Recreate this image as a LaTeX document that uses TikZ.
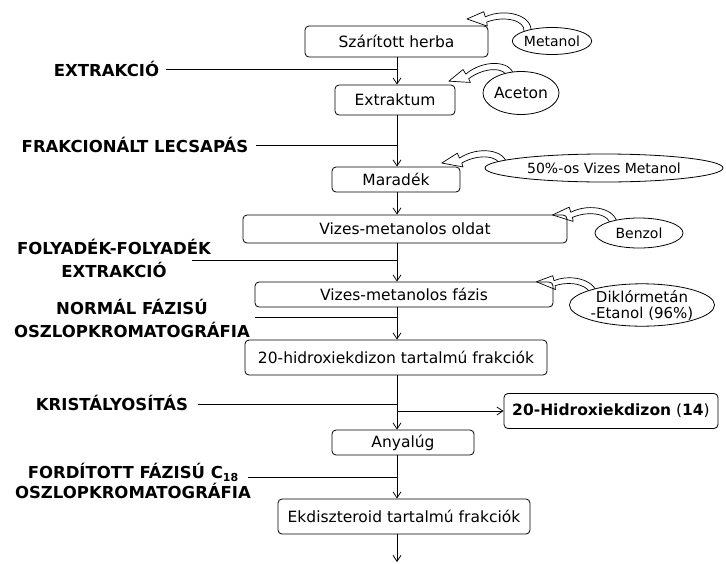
\documentclass[tikz,border=0pt]{standalone}
\usepackage{fontspec}
\setmainfont{DejaVu Sans}
\usetikzlibrary{arrows.meta,shapes.geometric}
\tikzset{
  box/.style={draw,rounded corners=4pt,inner sep=0pt,line width=0.8pt,font=\fontsize{15.5}{18}\selectfont},
  ell/.style={draw,ellipse,fill=white,inner sep=0pt,line width=0.8pt,font=\fontsize{14}{17}\selectfont},
  lab/.style={font=\bfseries\fontsize{16.5}{23}\selectfont,align=center,inner sep=0pt},
  arr/.style={line width=0.8pt,-{Straight Barb[length=6pt,width=8pt]}},
  conn/.style={line width=0.8pt},
  curvarr/.pic={
    \draw[fill=white,line width=0.7pt,line join=round]
      (0,0) .. controls (0,-10) and (-20,-14) .. (-38,-5) -- (-37,-1) -- (-58,-6)
      -- (-42,-15) -- (-40,-10) .. controls (-22,-21) and (7,-17) .. (7,0);
  }
}
\begin{document}
\begin{tikzpicture}[x=1pt,y=-1pt]
\useasboundingbox (0,0) rectangle (726,563);
\coordinate (sp) at (397,0);

% curved hollow arrows (drawn first)
\pic[rotate=-6] at (524,31) {curvarr};
\pic[rotate=10] at (507,77) {curvarr};
\pic[rotate=3] at (500,166) {curvarr};
\pic[rotate=-4] at (610,225) {curvarr};
\pic[rotate=-9,scale=0.95] at (590,296) {curvarr};

% boxes
\node[box,minimum width=183pt,minimum height=31pt] (b1) at (396.5,41.5) {Szárított herba};
\node[box,minimum width=120pt,minimum height=30pt] (b2) at (395,100) {Extraktum};
\node[box,minimum width=128pt,minimum height=25pt] (b3) at (396,179.5) {Maradék};
\node[box,minimum width=324pt,minimum height=28pt] (b4) at (405,229) {Vizes-metanolos oldat};
\node[box,minimum width=298pt,minimum height=25pt] (b5) at (404,294.5) {Vizes-metanolos fázis};
\node[box,minimum width=302pt,minimum height=35pt] (b6) at (396,357.5) {20-hidroxiekdizon tartalmú frakciók};
\node[box,minimum width=214pt,minimum height=35pt] (b7) at (611,411) {\textbf{20-Hidroxiekdizon} (\textbf{14})};
\node[box,minimum width=142pt,minimum height=25pt] (b8) at (403,442.5) {Anyalúg};
\node[box,minimum width=252pt,minimum height=35pt] (b9) at (404,516.5) {Ekdiszteroid tartalmú frakciók};

% ellipses
\node[ell,minimum width=70pt,minimum height=27pt] (e1) at (552,41) {Metanol};
\node[ell,minimum width=73pt,minimum height=43pt,font=\fontsize{15.5}{18}\selectfont] (e2) at (521,93) {Aceton};
\node[ell,minimum width=238pt,minimum height=28pt] (e3) at (604,168) {50\%-os Vizes Metanol};
\node[ell,minimum width=88pt,minimum height=30pt] (e4) at (639,233) {Benzol};
\node[ell,minimum width=135pt,minimum height=40pt,align=center,font=\fontsize{15}{16}\selectfont] (e5) at (642,305) {Diklórmetán\\-Etanol (96\%)};

% left labels
\node[lab] (l1) at (106.5,69) {EXTRAKCIÓ};
\node[lab] (l2) at (135,145) {FRAKCIONÁLT LECSAPÁS};
\node[lab] (l3) at (114,258.5) {FOLYADÉK-FOLYADÉK\\EXTRAKCIÓ};
\node[lab] (l4) at (132,318.5) {NORMÁL FÁZISÚ\\OSZLOPKROMATOGRÁFIA};
\node[lab] (l5) at (112,403) {KRISTÁLYOSÍTÁS};
\node[lab,font=\bfseries\fontsize{16.5}{17}\selectfont] (l6) at (133,481) {FORDÍTOTT FÁZISÚ C\raisebox{-3pt}{\fontsize{11}{11}\selectfont 18}\\OSZLOPKROMATOGRÁFIA};

% line starts
\coordinate (s1) at (166,69);
\coordinate (s2) at (256,145);
\coordinate (s3) at (192,260);
\coordinate (s4) at (255,317);
\coordinate (s5) at (198,404);
\coordinate (s6) at (248,477);
\coordinate (k2) at (397,411);
\coordinate (end) at (397,562);

\draw[conn] (s1) -- (s1 -| sp);
\draw[conn] (s2) -- (s2 -| sp);
\draw[conn] (s3) -- (s3 -| sp);
\draw[conn] (s4) -- (s4 -| sp);
\draw[conn] (s5) -- (s5 -| sp);
\draw[conn] (s6) -- (s6 -| sp);

% spine arrows
\draw[arr] (b1.south -| sp) -- (b2.north -| sp);
\draw[arr] (b2.south -| sp) -- (b3.north -| sp);
\draw[arr] (b3.south -| sp) -- (b4.north -| sp);
\draw[arr] (b4.south -| sp) -- (b5.north -| sp);
\draw[arr] (b5.south -| sp) -- (b6.north -| sp);
\draw[arr] (b6.south -| sp) -- (b8.north -| sp);
\draw[arr] (b8.south -| sp) -- (b9.north -| sp);
\draw[arr] (b9.south -| sp) -- (end);
\draw[arr] (k2) -- (b7.west);
\end{tikzpicture}
\end{document}
